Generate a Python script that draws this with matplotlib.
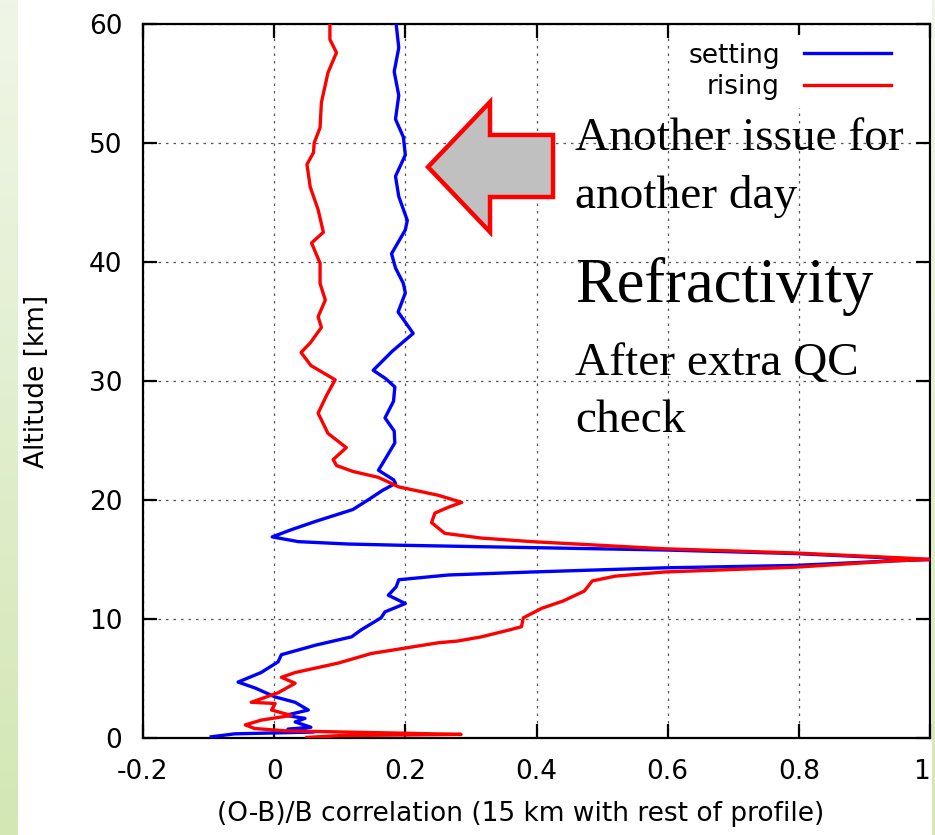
import numpy as np
import matplotlib
matplotlib.use('Agg')
import matplotlib.pyplot as plt
from matplotlib.patches import Polygon

plt.rcParams.update({
    'font.family': 'DejaVu Sans',
    'font.size': 19,
    'axes.linewidth': 1.6,
    'xtick.direction': 'in',
    'ytick.direction': 'in',
    'xtick.top': True,
    'ytick.right': True,
})

BLUE = '#0000ff'
RED = '#ff0000'

# ── data (altitude in km, correlation) ────────────────────────────────────
setting_alt = [60, 58, 56, 54, 52, 50.5, 49, 47.2, 45.5, 43.5, 42.7, 40.7, 39.5,
               38.2, 37.4, 35.8, 34.0, 32.5, 30.9, 30.2, 29.5, 28.3, 26.9, 25.8,
               24.8, 23.5, 22.5, 21.7, 21.4, 20.8, 20.0, 19.2, 18.2, 17.5, 16.9,
               16.5, 16.3, 16.2, 15.8, 15.5, 15.05, 15.0, 14.9, 14.5, 14.3, 13.95,
               13.7, 13.3, 12.7, 12.0, 11.3, 10.6, 10.1, 9.1, 8.5, 7.8, 7.0, 6.4,
               5.5, 4.7, 4.2, 3.45, 3.0, 2.35, 1.9, 1.65, 1.35, 0.9, 0.75, 0.5,
               0.35, 0.1]
setting_corr = [0.186, 0.19, 0.183, 0.19, 0.185, 0.197, 0.2, 0.185, 0.19, 0.203,
                0.2, 0.179, 0.185, 0.197, 0.2, 0.189, 0.212, 0.18, 0.151, 0.17,
                0.184, 0.182, 0.169, 0.183, 0.184, 0.17, 0.159, 0.182, 0.185,
                0.165, 0.143, 0.12, 0.063, 0.026, -0.003, 0.037, 0.113, 0.19,
                0.595, 0.794, 0.97, 1.0, 0.95, 0.794, 0.595, 0.393, 0.266, 0.19,
                0.186, 0.174, 0.2, 0.169, 0.163, 0.133, 0.118, 0.063, 0.011,
                0.006, -0.02, -0.055, -0.029, 0.0015, 0.032, 0.052, 0.017, 0.047,
                0.032, 0.056, 0.021, 0.06, -0.06, -0.096]

rising_alt = [60, 58.7, 57.6, 55.9, 53.4, 51.3, 50, 49.2, 48.2, 46.3, 44.4, 42.5,
              41.6, 39.9, 38.2, 36.8, 35.4, 34.5, 33.2, 32.4, 31.3, 30.1, 28.8,
              27.3, 25.6, 24.4, 23.4, 22.9, 22.4, 21.9, 21.1, 20.4, 19.8, 19.4,
              18.9, 18.1, 17.2, 16.8, 16.5, 16.2, 15.9, 15.55, 15.1, 15.0, 14.9,
              14.35, 13.95, 13.6, 13.2, 12.35, 11.5, 10.9, 10.1, 9.35, 9.1, 8.5,
              8.15, 8.0, 7.1, 6.3, 5.5, 5.1, 4.6, 3.8, 3.0, 2.9, 2.35, 1.9, 1.5,
              1.1, 0.8, 0.6, 0.4, 0.3, 0.2, 0.05]
rising_corr = [0.085, 0.085, 0.095, 0.082, 0.072, 0.07, 0.061, 0.06, 0.05, 0.055,
               0.067, 0.075, 0.057, 0.07, 0.07, 0.078, 0.067, 0.072, 0.055, 0.041,
               0.056, 0.093, 0.08, 0.067, 0.082, 0.11, 0.09, 0.095, 0.12, 0.159,
               0.19, 0.25, 0.286, 0.266, 0.245, 0.24, 0.26, 0.316, 0.393, 0.495,
               0.595, 0.794, 0.97, 1.0, 0.95, 0.794, 0.595, 0.52, 0.485, 0.473,
               0.44, 0.408, 0.38, 0.377, 0.36, 0.316, 0.28, 0.25, 0.148, 0.098,
               0.032, 0.011, 0.032, 0.006, -0.035, 0.0015, -0.004, 0.026, -0.02,
               -0.044, -0.03, 0.017, 0.2, 0.285, 0.1, 0.05]

x_ticks = [-0.2, 0, 0.2, 0.4, 0.6, 0.8, 1.0]
x_ticklabels = ['-0.2', '0', '0.2', '0.4', '0.6', '0.8', '1']
y_ticks = [0, 10, 20, 30, 40, 50, 60]

W, H = 935, 835
fig = plt.figure(figsize=(W / 100, H / 100), dpi=100)
fig.patch.set_facecolor('white')

# light green slide border strips
grad = np.linspace(0, 1, 256).reshape(-1, 1)
green_cmap = matplotlib.colors.LinearSegmentedColormap.from_list('g', ['#f0f6e7', '#d2e7b4'])
for left, width in [(0, 18), (932, 3)]:
    sax = fig.add_axes([left / W, 0, width / W, 1])
    sax.imshow(grad, aspect='auto', cmap=green_cmap, extent=(0, 1, 0, 1))
    sax.axis('off')

ax = fig.add_axes([143 / W, 97 / H, 787 / W, 714 / H])
ax.plot(setting_corr, setting_alt, color=BLUE, lw=2.4, label='setting', zorder=3)
ax.plot(rising_corr, rising_alt, color=RED, lw=2.4, label='rising', zorder=3)

ax.set_xlim(-0.2, 1.0)
ax.set_ylim(0, 60)
ax.set_xticks(x_ticks)
ax.set_xticklabels(x_ticklabels)
ax.get_xticklabels()[-1].set_ha('right')
ax.set_yticks(y_ticks)
ax.tick_params(length=10, width=1.6, pad=15)
ax.grid(True, color='#555555', ls=(0, (2, 4)), lw=0.9)
ax.set_axisbelow(True)

ax.set_xlabel('(O-B)/B correlation (15 km with rest of profile)', labelpad=12)
ax.xaxis.set_label_coords(0.48, -0.088)
ax.set_ylabel('Altitude [km]', labelpad=28)

leg = ax.legend(loc='upper right', bbox_to_anchor=(0.96, 0.985), markerfirst=False,
                frameon=True, facecolor='white', edgecolor='none', framealpha=1,
                handlelength=3.3, borderaxespad=0, borderpad=0.3,
                labelspacing=0.22, handletextpad=0.9)
leg.set_zorder(4)

# annotation arrow (figure pixel outline)
arrow_px = np.array([[428, 167], [490, 102], [490, 135], [553, 135],
                     [553, 197], [490, 197], [490, 232]], dtype=float)
arrow_fig = np.column_stack([arrow_px[:, 0] / W, 1 - arrow_px[:, 1] / H])
fig.patches.append(Polygon(arrow_fig, closed=True, transform=fig.transFigure,
                           facecolor='#c0c0c0', edgecolor=RED, lw=3.2,
                           joinstyle='miter', zorder=5))

serif = 'Liberation Serif'
for txt, ybase, size in [('Another issue for', 150, 34), ('another day', 208, 34),
                         ('Refractivity', 302, 45), ('After extra QC', 375, 34),
                         ('check', 432, 34)]:
    fig.text(575 / W, 1 - ybase / H, txt, family=serif, fontsize=size,
             va='baseline', ha='left', zorder=6)

fig.savefig('out.png', dpi=100, facecolor='white')
